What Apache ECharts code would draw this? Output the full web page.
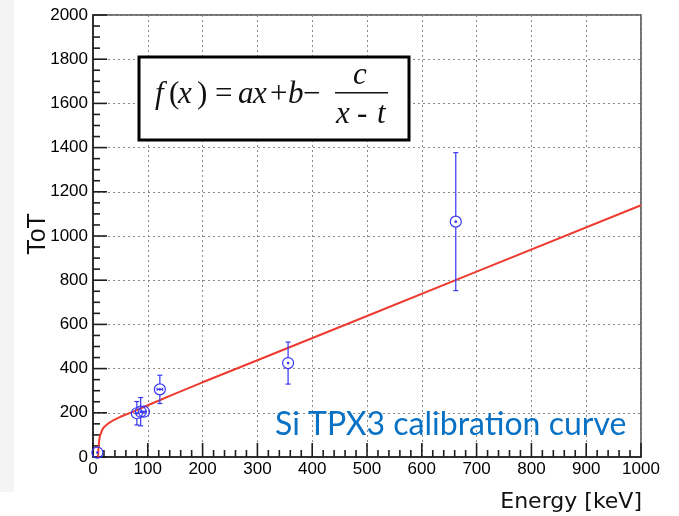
<!DOCTYPE html>
<html>
<head>
<meta charset="utf-8">
<script src="https://cdn.jsdelivr.net/npm/echarts@6/dist/echarts.min.js"></script>
<style>
html,body{margin:0;padding:0;background:#fff;}
#chart{width:679px;height:516px;}
</style>
</head>
<body>
<div id="chart"></div>
<script>
const energyKeV   = [8, 80, 87, 93, 122, 356, 662];
const totValues   = [20, 198, 205, 205, 306, 425, 1065];
const totErrors   = [0, 53, 64, 0, 64, 95, 312];
const energyErrors= [0, 0, 0, 4, 5, 0, 0];

// Fitted curve f(x) = ax + b - c/(x - t)
const fitEnergy = [9.2, 9.6, 10, 11, 12, 13, 14, 17, 20, 24, 28, 35, 50, 77, 100, 150, 200, 300, 500, 700, 1000];
const fitToT    = [0, 24, 41, 69, 87, 98, 107, 124, 135, 144, 152, 163, 182, 209, 234, 287, 338, 438, 638, 839, 1139];

const xTicks = {min: 0, max: 1000, interval: 100, minor: 20};
const yTicks = {min: 0, max: 2000, interval: 200, minor: 50};

const chart = echarts.init(document.getElementById('chart'), null, {renderer: 'canvas'});
const BLUE = '#3636f5';
const RED = '#ee3b2f';
const INK = '#1e1e1e';

const pointData = energyKeV.map((e, i) => [e, totValues[i], totErrors[i], energyErrors[i]]);
const fitData = fitEnergy.map((e, i) => [e, fitToT[i]]);

// tick marks: [x value, y value, axis flag (0 = x axis, 1 = y axis), major flag]
const tickData = [];
for (let v = xTicks.min; v <= xTicks.max; v += xTicks.minor) {
  tickData.push([v, yTicks.min, 0, (v % xTicks.interval === 0) ? 1 : 0]);
}
for (let v = yTicks.min; v <= yTicks.max; v += yTicks.minor) {
  tickData.push([xTicks.min, v, 1, (v % yTicks.interval === 0) ? 1 : 0]);
}

function renderTick(params, api) {
  const p = api.coord([api.value(0), api.value(1)]);
  const dir = api.value(2);
  const len = api.value(3) ? 14 : 7;
  const w = 1.6;
  const shape = dir === 0 ? {x: p[0] - w / 2, y: p[1] - len, width: w, height: len}
                          : {x: p[0], y: p[1] - w / 2, width: len, height: w};
  return {type: 'rect', shape: shape, style: {fill: INK}};
}

function renderPoint(params, api) {
  const x = api.value(0), y = api.value(1), ey = api.value(2), ex = api.value(3);
  const c = api.coord([x, y]);
  const r = 5.5;
  const st = {stroke: BLUE, lineWidth: 1.2, fill: null};
  const ch = [];
  if (ey > 0) {
    const top = api.coord([x, y + ey]);
    const bot = api.coord([x, y - ey]);
    if (c[1] - top[1] > r) {
      ch.push({type: 'line', shape: {x1: c[0], y1: top[1], x2: c[0], y2: c[1] - r}, style: st});
      ch.push({type: 'line', shape: {x1: c[0] - 2.5, y1: top[1], x2: c[0] + 2.5, y2: top[1]}, style: st});
    }
    if (bot[1] - c[1] > r) {
      ch.push({type: 'line', shape: {x1: c[0], y1: c[1] + r, x2: c[0], y2: bot[1]}, style: st});
      ch.push({type: 'line', shape: {x1: c[0] - 2.5, y1: bot[1], x2: c[0] + 2.5, y2: bot[1]}, style: st});
    }
  }
  if (ex > 0) {
    const l = api.coord([x - ex, y]);
    const rr = api.coord([x + ex, y]);
    ch.push({type: 'line', shape: {x1: l[0], y1: c[1], x2: rr[0], y2: c[1]}, style: st});
    ch.push({type: 'line', shape: {x1: l[0], y1: c[1] - 1.5, x2: l[0], y2: c[1] + 1.5}, style: st});
    ch.push({type: 'line', shape: {x1: rr[0], y1: c[1] - 1.5, x2: rr[0], y2: c[1] + 1.5}, style: st});
  }
  ch.push({type: 'circle', shape: {cx: c[0], cy: c[1], r: r}, style: st});
  ch.push({type: 'circle', shape: {cx: c[0], cy: c[1], r: 1.3}, style: {fill: BLUE}});
  return {type: 'group', children: ch};
}

const FS = 31;
const serif = 'Liberation Serif';
const baseY = 103;
function glyph(txt, x, y, italic, align) {
  return {
    type: 'text', x: x, y: y, z: 101,
    style: {text: txt, font: (italic ? 'italic ' : '') + FS + 'px "' + serif + '"', fill: '#111',
            align: align || 'left', verticalAlign: 'bottom'}
  };
}
const dy = 7;

const axisCommon = (t) => ({
  type: 'value', min: t.min, max: t.max, interval: t.interval,
  axisLine: {show: true, onZero: false, lineStyle: {color: '#1a1a1a', width: 1.5}},
  axisTick: {show: false},
  axisLabel: {fontFamily: 'Liberation Sans', fontSize: 17, color: '#000', formatter: (v) => String(v)},
  splitLine: {show: true, lineStyle: {color: '#888', width: 1, type: [2, 3]}}
});
const xAx = axisCommon(xTicks); xAx.axisLabel.margin = 4;
const yAx = axisCommon(yTicks); yAx.axisLabel.margin = 5;

const option = {
  animation: false,
  backgroundColor: '#ffffff',
  grid: {left: 93, top: 15, right: 38, bottom: 59, show: true, borderColor: '#444', borderWidth: 1.5, containLabel: false},
  xAxis: xAx,
  yAxis: yAx,
  series: [
    {type: 'custom', name: 'ticks', data: tickData, renderItem: renderTick, z: 2, clip: false, silent: true,
     encode: {x: 0, y: 1}},
    {type: 'line', data: fitData, showSymbol: false, smooth: false, z: 3,
     lineStyle: {color: RED, width: 2}, itemStyle: {color: RED}},
    {type: 'custom', data: pointData, renderItem: renderPoint, z: 4, clip: false,
     encode: {x: 0, y: 1}}
  ],
  graphic: [
    {type: 'rect', x: 0, y: 0, z: -10, shape: {width: 14, height: 492}, style: {fill: '#f4f4f4'}},
    {type: 'rect', x: 139, y: 57, z: 100, shape: {width: 270, height: 83}, style: {fill: '#fff', stroke: '#000', lineWidth: 3}},
    glyph('f', 155, baseY + dy, true),
    glyph('(', 169, baseY + dy, false),
    glyph('x', 178, baseY + dy, true),
    glyph(')', 197, baseY + dy, false),
    glyph('=', 215, baseY + dy, false),
    glyph('a', 238, baseY + dy, true),
    glyph('x', 253, baseY + dy, true),
    glyph('+', 270, baseY + dy, false),
    glyph('b', 288, baseY + dy, true),
    glyph('\u2212', 303, baseY + dy, false),
    {type: 'line', z: 101, shape: {x1: 335, y1: 92.7, x2: 388, y2: 92.7}, style: {stroke: '#111', lineWidth: 1.5}},
    glyph('c', 360, 84 + dy, true, 'center'),
    glyph('x', 336, 123 + dy, true),
    glyph('-', 357, 123 + dy, false),
    glyph('t', 377, 123 + dy, true),
    {type: 'text', x: 275, y: 441, z: 100,
     style: {text: 'Si TPX3 calibration curve', font: '32px "Lato"', fill: '#0a72c4', align: 'left', verticalAlign: 'bottom'}},
    {type: 'text', x: 38, y: 234, z: 100, rotation: Math.PI / 2,
     style: {text: 'ToT', font: '25px "Liberation Sans"', fill: '#111', align: 'center', verticalAlign: 'middle'}},
    {type: 'text', x: 642, y: 513, z: 100,
     style: {text: 'Energy [keV]', font: '22px "DejaVu Sans"', fill: '#111', align: 'right', verticalAlign: 'bottom'}}
  ]
};
chart.setOption(option);
</script>
</body>
</html>
